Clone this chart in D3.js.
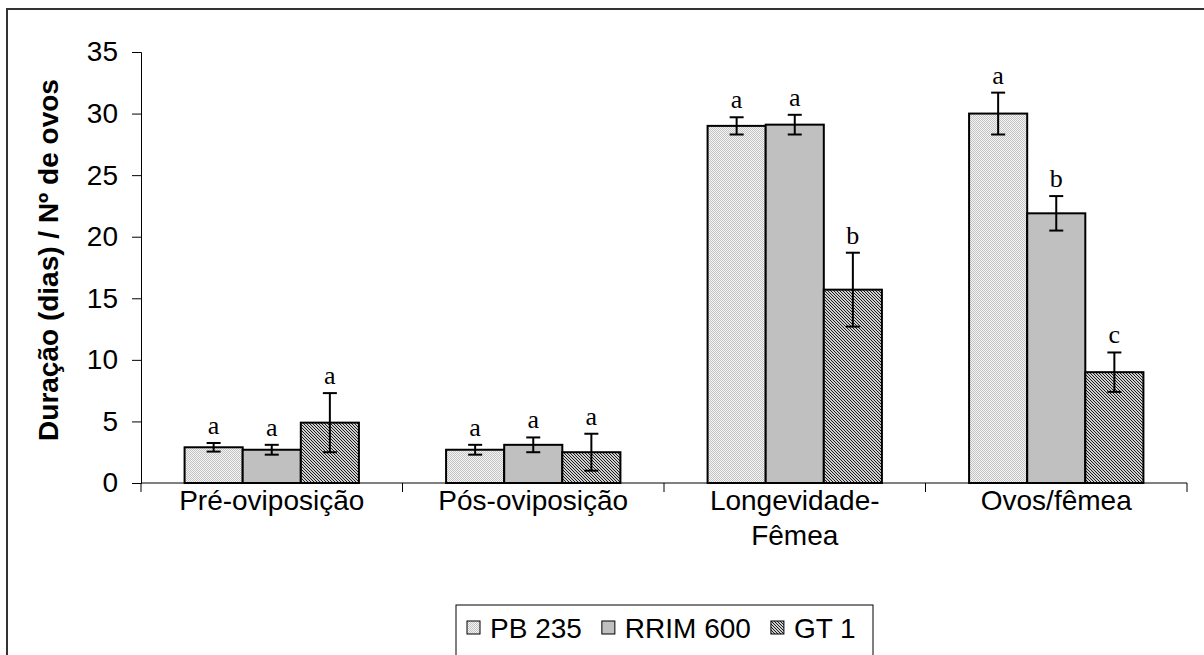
<!DOCTYPE html>
<html>
<head>
<meta charset="utf-8">
<script src="https://cdn.jsdelivr.net/npm/d3@7"></script>
<style>
	body { margin: 0; background: #fff; }
	svg { display: block; }
	text { font-family: Arial, "Liberation Sans", sans-serif; }
</style>
</head>
<body>
<svg id="chart" width="1204" height="655"></svg>
<script>
const width = 1204,
	height = 655;

// data
const categories = ["Pré-oviposição", "Pós-oviposição", "Longevidade-\nFêmea", "Ovos/fêmea"];
const seriesNames = ["PB 235", "RRIM 600", "GT 1"];

const pb235 = [2.9, 2.7, 29.0, 30.0],
	rrim600 = [2.7, 3.1, 29.1, 21.9],
	gt1 = [4.9, 2.5, 15.7, 9.0];

const pb235Err = [0.35, 0.4, 0.7, 1.7],
	rrim600Err = [0.4, 0.6, 0.8, 1.4],
	gt1Err = [2.4, 1.5, 3.0, 1.6];

const pb235Letters = ["a", "a", "a", "a"],
	rrim600Letters = ["a", "a", "a", "b"],
	gt1Letters = ["a", "a", "b", "c"];

const yTicks = [0, 5, 10, 15, 20, 25, 30, 35];

const values = [pb235, rrim600, gt1],
	errors = [pb235Err, rrim600Err, gt1Err],
	letters = [pb235Letters, rrim600Letters, gt1Letters];

const fills = ["url(#patPB)", "#c0c0c0", "url(#patGT)"];

const xScale = d3.scaleBand()
	.domain(categories)
	.range([141, 1187])
	.paddingInner(1 / 3)
	.paddingOuter(1 / 6);

const xInner = d3.scaleBand()
	.domain(seriesNames)
	.range([0, xScale.bandwidth()]);

const yScale = d3.scaleLinear()
	.domain([0, 35])
	.range([483, 52]);

const svg = d3.select("#chart");

// patterns
const defs = svg.append("defs");

const pb = defs.append("pattern")
	.attr("id", "patPB")
	.attr("patternUnits", "userSpaceOnUse")
	.attr("width", 2).attr("height", 2);
pb.append("rect").attr("width", 2).attr("height", 2).attr("fill", "#f4f4f4");
pb.append("rect").attr("width", 1).attr("height", 1).attr("fill", "#c4c4c4");
pb.append("rect").attr("x", 1).attr("y", 1).attr("width", 1).attr("height", 1).attr("fill", "#c4c4c4");

const gt = defs.append("pattern")
	.attr("id", "patGT")
	.attr("patternUnits", "userSpaceOnUse")
	.attr("width", 3).attr("height", 3);
gt.append("rect").attr("width", 3).attr("height", 3).attr("fill", "#cfcfcf");
[[0, 0], [1, 1], [2, 2]].forEach(([px, py]) => {
	gt.append("rect").attr("x", px).attr("y", py)
		.attr("width", 1).attr("height", 1).attr("fill", "#1c1c1c");
});

// outer frame
svg.append("rect")
	.attr("x", 7).attr("y", 9)
	.attr("width", 1250).attr("height", 700)
	.attr("fill", "none")
	.attr("stroke", "#333")
	.attr("stroke-width", 2);

// bars
const rows = [];
categories.forEach((c, i) => {
	seriesNames.forEach((s, j) => {
		rows.push({cat: c, series: s, j: j, v: values[j][i], e: errors[j][i], l: letters[j][i]});
	});
});

svg.selectAll("rect.bar")
	.data(rows)
	.join("rect")
	.attr("class", "bar")
	.attr("x", d => xScale(d.cat) + xInner(d.series))
	.attr("y", d => yScale(d.v))
	.attr("width", xInner.bandwidth())
	.attr("height", d => yScale(0) - yScale(d.v))
	.attr("fill", d => fills[d.j])
	.attr("stroke", "#000")
	.attr("stroke-width", 2);

// error bars
const cx = d => xScale(d.cat) + xInner(d.series) + xInner.bandwidth() / 2;

const err = svg.selectAll("g.err")
	.data(rows)
	.join("g")
	.attr("class", "err")
	.attr("stroke", "#000")
	.attr("stroke-width", 2);

err.append("line")
	.attr("x1", cx).attr("x2", cx)
	.attr("y1", d => yScale(d.v + d.e))
	.attr("y2", d => yScale(d.v - d.e));
err.append("line")
	.attr("x1", d => cx(d) - 7).attr("x2", d => cx(d) + 7)
	.attr("y1", d => yScale(d.v + d.e))
	.attr("y2", d => yScale(d.v + d.e));
err.append("line")
	.attr("x1", d => cx(d) - 7).attr("x2", d => cx(d) + 7)
	.attr("y1", d => yScale(d.v - d.e))
	.attr("y2", d => yScale(d.v - d.e));

svg.selectAll("text.letter")
	.data(rows)
	.join("text")
	.attr("class", "letter")
	.attr("x", cx)
	.attr("y", d => yScale(d.v + d.e) - 9)
	.attr("text-anchor", "middle")
	.style("font-family", "'Times New Roman', 'Liberation Serif', serif")
	.style("font-size", "26px")
	.text(d => d.l);

// y axis
const yAxis = svg.append("g")
	.attr("transform", "translate(141,0)")
	.call(d3.axisLeft(yScale).tickValues(yTicks).tickSize(9).tickPadding(14));
yAxis.selectAll("text").style("font-size", "28px").attr("fill", "#000");
yAxis.selectAll("line, path").attr("stroke", "#000");

// x axis
const boundaries = d3.range(categories.length + 1).map(i => 141 + i * xScale.step());
svg.append("line")
	.attr("x1", 141).attr("x2", 1187)
	.attr("y1", yScale(0)).attr("y2", yScale(0))
	.attr("stroke", "#000");
svg.selectAll("line.xtick")
	.data(boundaries)
	.join("line")
	.attr("class", "xtick")
	.attr("x1", d => d).attr("x2", d => d)
	.attr("y1", yScale(0)).attr("y2", yScale(0) + 9)
	.attr("stroke", "#000");

svg.selectAll("text.cat")
	.data(categories)
	.join("text")
	.attr("class", "cat")
	.attr("x", d => xScale(d) + xScale.bandwidth() / 2)
	.attr("y", 510)
	.attr("text-anchor", "middle")
	.style("font-size", "28px")
	.selectAll("tspan")
	.data(d => d.split("\n").map(t => ({t: t, x: xScale(d) + xScale.bandwidth() / 2})))
	.join("tspan")
	.attr("x", d => d.x)
	.attr("dy", (d, i) => i === 0 ? 0 : 35)
	.text(d => d.t);

// y title
svg.append("text")
	.attr("transform", "translate(58,260) rotate(-90)")
	.attr("text-anchor", "middle")
	.style("font-size", "28px")
	.style("font-weight", "bold")
	.text("Duração (dias) / Nº de ovos");

// legend
svg.append("rect")
	.attr("x", 456).attr("y", 605)
	.attr("width", 417).attr("height", 70)
	.attr("fill", "#fff")
	.attr("stroke", "#000");

let lx = 467;
seriesNames.forEach((s, j) => {
	svg.append("rect")
		.attr("x", lx).attr("y", 621)
		.attr("width", 13).attr("height", 13)
		.attr("fill", fills[j])
		.attr("stroke", "#000");
	const t = svg.append("text")
		.attr("x", lx + 23).attr("y", 638)
		.style("font-size", "28px")
		.text(s);
	lx += 23 + t.node().getComputedTextLength() + 20;
});
</script>
</body>
</html>
